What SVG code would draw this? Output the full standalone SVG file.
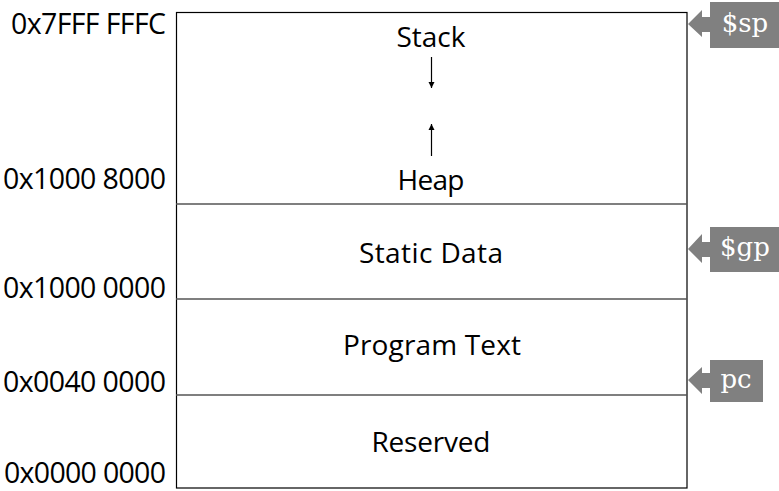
<svg xmlns="http://www.w3.org/2000/svg" width="779" height="491" viewBox="0 0 779 491">
<style>
.addr{font-family:"Open Sans","Noto Sans",sans-serif;font-size:28.5px;fill:#000;text-anchor:end}
.lbl{font-family:"Open Sans","Noto Sans",sans-serif;font-size:28px;fill:#000;text-anchor:middle}
.tag{fill:#808080}
.tagt{font-family:"DejaVu Serif",serif;font-size:26px;fill:#fff;text-anchor:middle}
.div{stroke:#555;stroke-width:1.5}
</style>
<defs>
<marker id="ah" viewBox="0 0 10 10" refX="10" refY="5" markerWidth="6" markerHeight="10" markerUnits="userSpaceOnUse" orient="auto">
<path d="M0,0 L10,5 L0,10 z" fill="#000"/>
</marker>
</defs>
<g id="memory">
<rect x="176.5" y="12.5" width="510.5" height="475.5" fill="#fff" stroke="#000" stroke-width="1.2"/>
</g>
<g id="stack-heap">
<text class="lbl" x="431" y="47" textLength="69" lengthAdjust="spacing">Stack</text>
<text class="lbl" x="431" y="190" textLength="67" lengthAdjust="spacing">Heap</text>
</g>
<g id="static-data">
<line class="div" x1="176" y1="204" x2="687" y2="204"/>
<text class="lbl" x="431" y="263" textLength="144" lengthAdjust="spacing">Static Data</text>
</g>
<g id="program-text">
<line class="div" x1="176" y1="299" x2="687" y2="299"/>
<text class="lbl" x="432" y="355" textLength="178" lengthAdjust="spacing">Program Text</text>
</g>
<g id="reserved">
<line class="div" x1="176" y1="395" x2="687" y2="395"/>
<text class="lbl" x="431" y="452" textLength="119" lengthAdjust="spacing">Reserved</text>
</g>
<g id="addresses">
<text class="addr" x="166" y="34" textLength="155" lengthAdjust="spacing">0x7FFF FFFC</text>
<text class="addr" x="166" y="189" textLength="163" lengthAdjust="spacing">0x1000 8000</text>
<text class="addr" x="166" y="298" textLength="163" lengthAdjust="spacing">0x1000 0000</text>
<text class="addr" x="166" y="392" textLength="163" lengthAdjust="spacing">0x0040 0000</text>
<text class="addr" x="166" y="483" textLength="162" lengthAdjust="spacing">0x0000 0000</text>
</g>
<g id="sp">
<rect class="tag" x="710" y="2" width="69" height="46"/>
<polygon class="tag" points="688,24 702,10 702,17 711,17 711,32 702,32 702,37"/>
<text class="tagt" x="745" y="32">$sp</text>
</g>
<g id="gp">
<rect class="tag" x="710" y="227" width="69" height="45"/>
<polygon class="tag" points="688,249 702,234 702,242 711,242 711,257 702,257 702,263"/>
<text class="tagt" x="745" y="256">$gp</text>
</g>
<g id="pc">
<rect class="tag" x="710" y="360" width="53" height="42"/>
<polygon class="tag" points="688,380 702,367 702,373 711,373 711,388 702,388 702,394"/>
<text class="tagt" x="736" y="388">pc</text>
</g>
<g id="connectors">
<line x1="431.5" y1="57" x2="431.5" y2="88" stroke="#000" stroke-width="1.2" marker-end="url(#ah)"/>
<line x1="431.5" y1="156" x2="431.5" y2="124" stroke="#000" stroke-width="1.2" marker-end="url(#ah)"/>
</g>
</svg>
